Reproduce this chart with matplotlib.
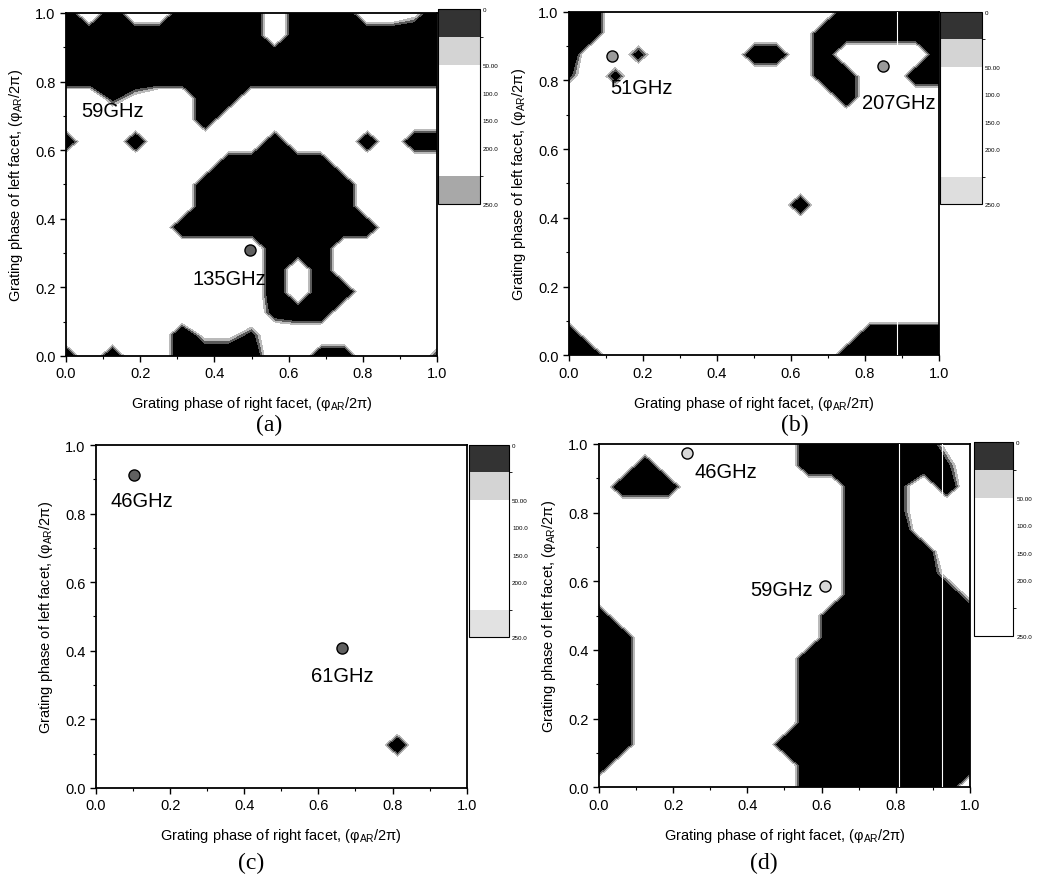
import numpy as np
import matplotlib
matplotlib.use('Agg')
import matplotlib.pyplot as plt
from matplotlib.colors import ListedColormap, BoundaryNorm
from matplotlib.cm import ScalarMappable
from matplotlib.ticker import MultipleLocator

plt.rcParams['font.family'] = ['Liberation Sans', 'DejaVu Sans']
plt.rcParams['mathtext.default'] = 'regular'

# grating phase grid (right facet on x, left facet on y), step 1/16
phase = np.linspace(0, 1, 17)

# one string per row of left-facet phase, first row = 1.0, last row = 0.0
# '#' low (black), '.' high (white), digit = level in tenths
map_a = [
    "#.#..####.###..7#",
    "#########.#######",
    "#################",
    "#################",
    "..37..##.........",
    "......#..........",
    "#..#.....#...#.##",
    ".......#####.....",
    "......#######....",
    "......#######....",
    ".....#########...",
    ".........###.....",
    ".........#.#.....",
    ".........#.##....",
    ".........2##.....",
    ".....#773........",
    "#.#..####..##...3",
]
map_b = [
    "##..........#####",
    "##.........######",
    "#..2....##.#....#",
    "3.2........##..##",
    "............#....",
    ".................",
    ".................",
    ".................",
    ".................",
    "..........#......",
    ".................",
    ".................",
    ".................",
    ".................",
    ".................",
    "#............####",
    "##..........#####",
]
map_c = ["................."] * 14 + [".............#...", ".................", "................."]
map_d = [
    ".........######7.",
    "..#......######3.",
    ".###.......##3.#.",
    "...........##3...",
    "...........###...",
    "...........####..",
    "...........####7.",
    "...........#####7",
    "#.........#######",
    "##........#######",
    "##.......########",
    "##.......########",
    "##.......########",
    "##.......########",
    "##......#########",
    "#........########",
    ".........#######.",
]

# marked operating points and their beat frequencies
dots_a = [(0.495, 0.31)]
dots_b = [(0.115, 0.87), (0.85, 0.841)]
dots_c = [(0.103, 0.912), (0.663, 0.409)]
dots_d = [(0.238, 0.973), (0.609, 0.587)]
freqs_a = ['59GHz', '135GHz']
freqs_b = ['51GHz', '207GHz']
freqs_c = ['46GHz', '61GHz']
freqs_d = ['46GHz', '59GHz']

# white scan seams visible in (b) and (d)
seams_b = [0.887]
seams_d = [0.809, 0.924]

# colour scale of the original figure
cb_levels = [0, 25, 50, 100, 150, 200, 225, 250]
cb_ticks = [0, 50, 100, 150, 200, 250]
cb_labels = ['0', '50.00', '100.0', '150.0', '200.0', '250.0']


def to_grid(rows):
    vals = {'#': 0.0, '.': 1.0}
    z = [[vals[c] if c in vals else int(c) / 10 for c in r] for r in rows]
    return np.array(z[::-1])


def draw_panel(fig, pos, cpos, rows, dots, freqs, label_pos, dot_face, seams,
               cb_bottom, letter, letter_pos):
    ax = fig.add_axes(pos)
    z = to_grid(rows)
    ax.contourf(phase, phase, z, levels=[0, 0.41, 0.5, 0.59, 1.01],
                colors=['black', '#5a5a5a', '#bababa', 'white'])
    for s in seams:
        ax.axvline(s, color='white', lw=0.8, zorder=3)
    if dots:
        dx, dy = zip(*dots)
        ax.plot(dx, dy, 'o', ms=8, mfc=dot_face, mec='black', mew=1.0, zorder=5)
    for txt, (tx, ty) in zip(freqs, label_pos):
        ax.text(tx, ty, txt, ha='center', va='center', fontsize=14.5, zorder=6)

    ax.set_xlim(0, 1)
    ax.set_ylim(0, 1)
    ax.xaxis.set_major_locator(MultipleLocator(0.2))
    ax.yaxis.set_major_locator(MultipleLocator(0.2))
    ax.xaxis.set_minor_locator(MultipleLocator(0.1))
    ax.yaxis.set_minor_locator(MultipleLocator(0.1))
    ax.xaxis.set_major_formatter('{x:.1f}')
    ax.yaxis.set_major_formatter('{x:.1f}')
    ax.tick_params(which='major', direction='out', length=4, width=1, labelsize=10.5)
    ax.tick_params(which='minor', direction='out', length=2.5, width=0.8)
    for sp in ax.spines.values():
        sp.set_linewidth(1.3)
    ax.set_xlabel('Grating phase of right facet, (φ$_{AR}$/2π)', fontsize=10.5, labelpad=10)
    ax.set_ylabel('Grating phase of left facet, (φ$_{AR}$/2π)', fontsize=10.5, labelpad=7)

    cax = fig.add_axes(cpos)
    cmap = ListedColormap(['#333333', '#d4d4d4', 'white', 'white', 'white', 'white', cb_bottom])
    norm = BoundaryNorm(cb_levels, cmap.N)
    cb = fig.colorbar(ScalarMappable(norm=norm, cmap=cmap), cax=cax, spacing='uniform')
    cb.set_ticks(cb_ticks, labels=cb_labels)
    cb.outline.set_linewidth(0.8)
    cax.invert_yaxis()
    cax.tick_params(length=0, labelsize=4.5, pad=2)

    fig.text(letter_pos[0], letter_pos[1], letter, ha='center', va='center',
             fontsize=17, family='Liberation Serif')
    return ax


fig = plt.figure(figsize=(10.41, 8.79), dpi=100)

draw_panel(fig, [0.0634, 0.5939, 0.3564, 0.3902], [0.4207, 0.7668, 0.0403, 0.2218],
           map_a, dots_a, freqs_a, [(0.125, 0.715), (0.44, 0.225)], '#606060', [],
           '#a8a8a8', '(a)', (0.2584, 0.5165))
draw_panel(fig, [0.5466, 0.5947, 0.3554, 0.3909], [0.9030, 0.7668, 0.0400, 0.2188],
           map_b, dots_b, freqs_b, [(0.195, 0.78), (0.892, 0.735)], '#9a9a9a', seams_b,
           '#dedede', '(b)', (0.7637, 0.5165))
draw_panel(fig, [0.0922, 0.1024, 0.3561, 0.3902], [0.4508, 0.2738, 0.0384, 0.2188],
           map_c, dots_c, freqs_c, [(0.125, 0.837), (0.665, 0.327)], '#606060', [],
           '#e2e2e2', '(c)', (0.2411, 0.0182))
draw_panel(fig, [0.5754, 0.1032, 0.3564, 0.3906], [0.9357, 0.2757, 0.0378, 0.2200],
           map_d, dots_d, freqs_d, [(0.342, 0.92), (0.493, 0.577)], '#d8d8d8', seams_d,
           'white', '(d)', (0.7339, 0.0182))

fig.savefig('out.png', dpi=100)
